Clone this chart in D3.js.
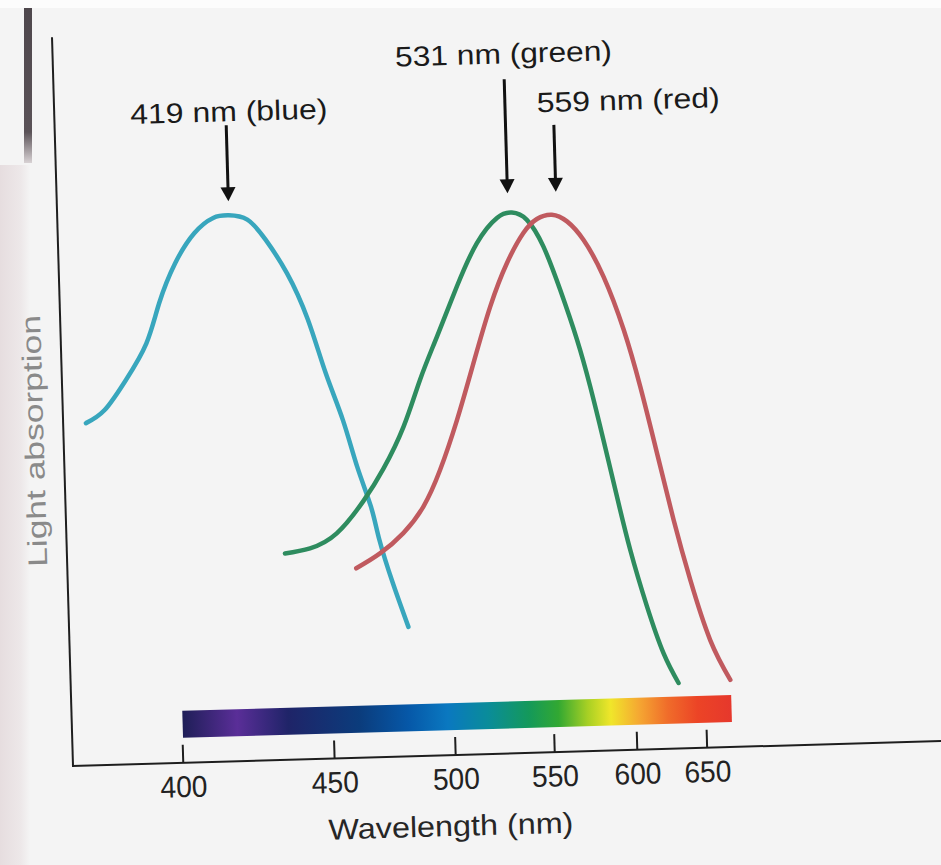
<!DOCTYPE html>
<meta charset="utf-8">
<head>
  <title>Cone pigments - light absorption</title>
</head>
<style>
body { margin: 0; background: #f4f4f4; }
svg { display: block; font-family: "Liberation Sans", Arial, sans-serif; }
.axisline { stroke: #1e1e1e; stroke-width: 2; }
.curve { fill: none; stroke-width: 4.5; stroke-linecap: round; }
</style>
<body>
<script src="https://cdn.jsdelivr.net/npm/d3@7"></script>
<script>

// absorption curves (wavelength in nm, relative absorption)
var blueNm  = [376, 381, 387, 393, 397, 402, 408, 414, 419, 425, 431, 438, 445, 451, 457, 462, 467, 470, 475, 481];
var blueAbs = [0.627, 0.650, 0.704, 0.770, 0.843, 0.915, 0.969, 0.996, 1.0, 0.991, 0.953, 0.891, 0.805, 0.706, 0.619, 0.533, 0.459, 0.398, 0.318, 0.237];

var greenNm  = [434.5, 443.4, 453.4, 464.1, 472.5, 481.4, 489.1, 497.2, 507.1, 517.3, 527.7, 535.5, 543.4, 552.1, 560.9, 569.9, 577.1, 584.3, 591.8, 599.5, 609.6, 620.2, 630.3];
var greenAbs = [0.378, 0.386, 0.412, 0.470, 0.528, 0.604, 0.689, 0.767, 0.858, 0.936, 0.981, 0.990, 0.976, 0.926, 0.846, 0.754, 0.667, 0.569, 0.465, 0.366, 0.262, 0.175, 0.120];

var redNm  = [460.5, 470.1, 480.0, 488.9, 496.8, 505.3, 513.9, 523.0, 532.2, 541.3, 548.9, 557.4, 566.0, 575.6, 587.3, 599.3, 609.3, 619.6, 630.1, 641.2, 655.2, 670.5];
var redAbs = [0.347, 0.373, 0.409, 0.456, 0.522, 0.613, 0.716, 0.819, 0.898, 0.952, 0.977, 0.984, 0.971, 0.936, 0.868, 0.770, 0.665, 0.542, 0.419, 0.308, 0.197, 0.123];

var curveColors = ["#38a6bd", "#2e8c5f", "#c05a5f"];

// peak annotations
var peakLabels  = ["419 nm (blue)", "531 nm (green)", "559 nm (red)"];
var peakArrowNm = [419, 533.5, 560];   // where the arrows are drawn

// x axis
var tickValues = [400, 450, 500, 550, 600, 650];

// colour band under the curves
var spectrumNm     = [400, 417, 434, 460, 480, 497, 516, 537, 553, 570, 584, 602, 622, 644, 670];
var spectrumColors = ["#1d1e56", "#5a2e98", "#1f2468", "#0b3c7c", "#0658a8", "#0a78c0", "#0a8c9a", "#14995a",
                      "#32a832", "#a8d024", "#f0e62a", "#f5a832", "#f06c2a", "#ec4426", "#e6382c"];

var xTitle = "Wavelength (nm)", yTitle = "Light absorption";

var width = 941, height = 865;
var svg = d3.select("body").append("svg")
    .attr("width", width)
    .attr("height", height);

// scan edge shading
var defs = svg.append("defs");
var edge = defs.append("linearGradient").attr("id", "edge");
edge.append("stop").attr("offset", 0).attr("stop-color", "#e6dddf");
edge.append("stop").attr("offset", 0.7).attr("stop-color", "#ede8e9");
edge.append("stop").attr("offset", 1).attr("stop-color", "#f4f4f4");
svg.append("rect").attr("x", 0).attr("y", 165).attr("width", 30).attr("height", 700).attr("fill", "url(#edge)");
svg.append("rect").attr("x", 0).attr("y", 0).attr("width", width).attr("height", 8).attr("fill", "#fcfcfc");
var bar = defs.append("linearGradient").attr("id", "bar").attr("x1", 0).attr("x2", 0).attr("y1", 0).attr("y2", 1);
bar.append("stop").attr("offset", 0).attr("stop-color", "#4e474c");
bar.append("stop").attr("offset", 0.8).attr("stop-color", "#5a5257");
bar.append("stop").attr("offset", 1).attr("stop-color", "#d8d2d4");
svg.append("rect").attr("x", 24).attr("y", 8).attr("width", 8).attr("height", 155).attr("fill", "url(#bar)");

// the scanned page is slightly tilted
var g = svg.append("g").attr("transform", "rotate(-1.65, 73, 766)");

// wavenumber-like axis: position is linear in 1/wavelength
var x = d3.scalePow().exponent(-1).domain([400, 650]).range([182.8, 706.9]);
var y = d3.scaleLinear().domain([0, 1]).range([766, 220]);

// spectrum band
var x0 = x(spectrumNm[0]), x1 = x(spectrumNm[spectrumNm.length - 1]);
var spec = defs.append("linearGradient").attr("id", "spec")
    .attr("gradientUnits", "userSpaceOnUse")
    .attr("x1", x0).attr("x2", x1).attr("y1", 0).attr("y2", 0);
spec.selectAll("stop")
    .data(spectrumNm)
    .enter().append("stop")
    .attr("offset", function(d) { return (x(d) - x0) / (x1 - x0); })
    .attr("stop-color", function(d, i) { return spectrumColors[i]; });
g.append("rect")
    .attr("x", x0 + 1)
    .attr("y", 714)
    .attr("width", x1 - x0)
    .attr("height", 27)
    .attr("fill", "url(#spec)");

// axes
g.append("line").attr("class", "axisline")
    .attr("x1", 73).attr("y1", 37).attr("x2", 73).attr("y2", 767);
g.append("line").attr("class", "axisline")
    .attr("x1", 72).attr("y1", 766).attr("x2", 980).attr("y2", 766);

var xAxis = d3.axisBottom(x)
    .tickValues(tickValues)
    .tickFormat(d3.format("d"))
    .tickSizeInner(-18)
    .tickSizeOuter(0)
    .tickPadding(13);
var ax = g.append("g").attr("transform", "translate(0,766)").call(xAxis);
ax.select(".domain").remove();
ax.selectAll(".tick line").attr("stroke", "#1e1e1e").attr("stroke-width", 2);
ax.selectAll(".tick text")
    .attr("fill", "#222")
    .attr("textLength", 47).attr("lengthAdjust", "spacingAndGlyphs")
    .style("font-size", "30px")
    .style("font-family", "'Liberation Sans', Arial, sans-serif");

g.append("text")
    .attr("x", 449).attr("y", 847)
    .attr("text-anchor", "middle")
    .attr("textLength", 245).attr("lengthAdjust", "spacingAndGlyphs")
    .attr("fill", "#262626")
    .style("font-size", "29px")
    .text(xTitle);

g.append("text")
    .attr("transform", "translate(53,440) rotate(-90)")
    .attr("text-anchor", "middle")
    .attr("textLength", 252).attr("lengthAdjust", "spacingAndGlyphs")
    .attr("fill", "#8a8a8a")
    .style("font-size", "27px")
    .text(yTitle);

// curves
var line = d3.line()
    .x(function(d) { return x(d[0]); })
    .y(function(d) { return y(d[1]); })
    .curve(d3.curveNatural);

var series = [d3.zip(blueNm, blueAbs), d3.zip(greenNm, greenAbs), d3.zip(redNm, redAbs)];
g.selectAll(".curve")
    .data(series)
    .enter().append("path")
    .attr("class", "curve")
    .attr("stroke", function(d, i) { return curveColors[i]; })
    .attr("d", line);

// arrows + labels
var arrowTop = [130, 92, 139];
var labelBase = [126, 76, 126];
var labelDx = [3, 0, 75];
var labelLen = [197, 217, 183];
var tipY = 206;

var ann = g.selectAll(".ann")
    .data(peakLabels)
    .enter().append("g")
    .attr("class", "ann");

ann.append("line")
    .attr("x1", function(d, i) { return x(peakArrowNm[i]); })
    .attr("x2", function(d, i) { return x(peakArrowNm[i]); })
    .attr("y1", function(d, i) { return arrowTop[i]; })
    .attr("y2", tipY - 10)
    .attr("stroke", "#111")
    .attr("stroke-width", 3);

ann.append("path")
    .attr("d", function(d, i) {
      var ax = x(peakArrowNm[i]);
      return "M" + (ax - 7.5) + "," + (tipY - 14) + "L" + (ax + 7.5) + "," + (tipY - 14) + "L" + ax + "," + tipY + "Z";
    })
    .attr("fill", "#111");

ann.append("text")
    .attr("x", function(d, i) { return x(peakArrowNm[i]) + labelDx[i]; })
    .attr("y", function(d, i) { return labelBase[i]; })
    .attr("text-anchor", "middle")
    .attr("textLength", function(d, i) { return labelLen[i]; })
    .attr("lengthAdjust", "spacingAndGlyphs")
    .attr("fill", "#1a1a1a")
    .style("font-size", "28px")
    .text(function(d) { return d; });

</script>
</body>
